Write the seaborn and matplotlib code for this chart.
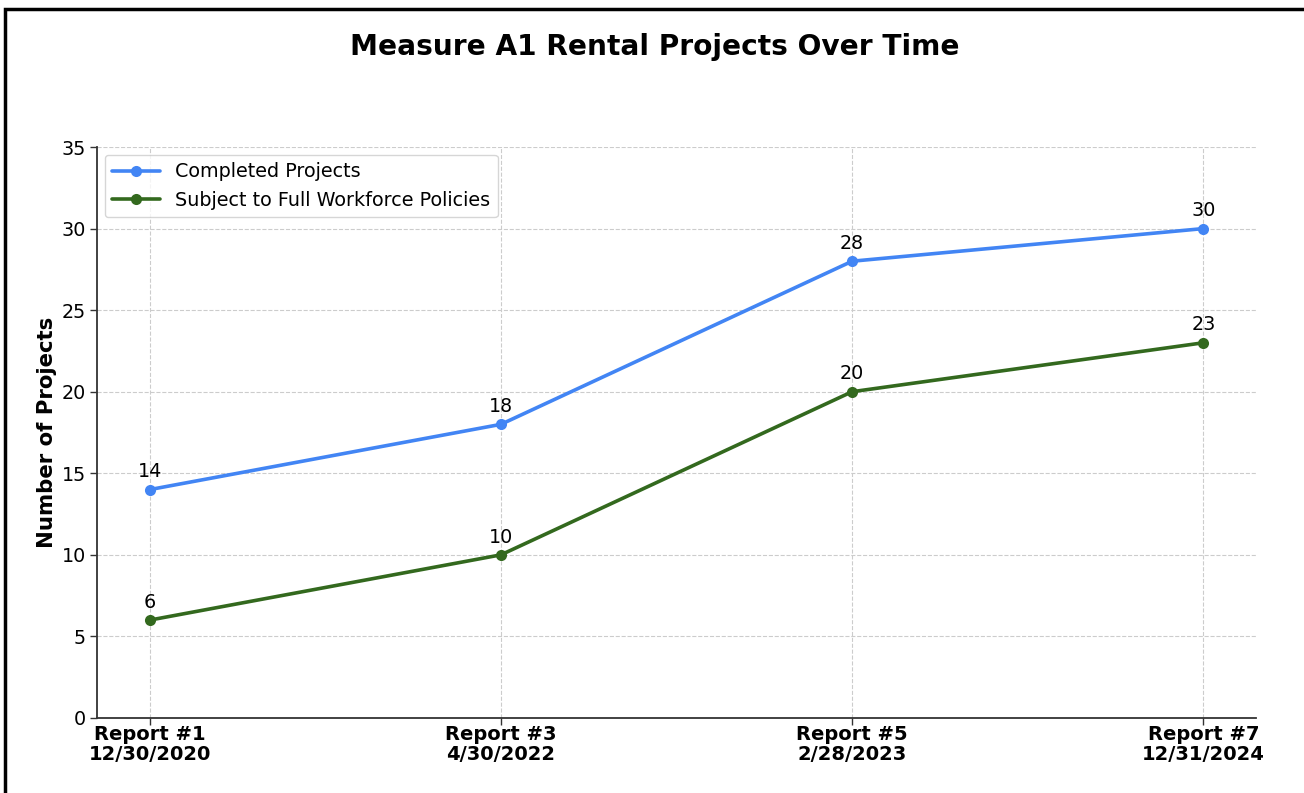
import matplotlib
matplotlib.use("Agg")
import matplotlib.pyplot as plt
import seaborn as sns
import pandas as pd
from matplotlib.patches import Rectangle

reports = ["Report #1\n12/30/2020", "Report #3\n4/30/2022", "Report #5\n2/28/2023", "Report #7\n12/31/2024"]
completed = [14, 18, 28, 30]
full_workforce = [6, 10, 20, 23]
series_names = ["Completed Projects", "Subject to Full Workforce Policies"]
colors = ["#4285F4", "#33691E"]
yticks = [0, 5, 10, 15, 20, 25, 30, 35]

sns.set_style("ticks")
plt.rcParams['font.family'] = ['DejaVu Sans']
plt.rcParams['text.color'] = 'black'
plt.rcParams['axes.labelcolor'] = 'black'
plt.rcParams['xtick.color'] = '#333333'
plt.rcParams['ytick.color'] = '#333333'
plt.rcParams['xtick.labelcolor'] = 'black'
plt.rcParams['ytick.labelcolor'] = 'black'

fig = plt.figure(figsize=(13.04, 7.93), dpi=100)
ax = fig.add_axes([0.0744, 0.0946, 0.8888, 0.72])

xs = list(range(len(reports)))
for vals, name, col in zip([completed, full_workforce], series_names, colors):
    df = pd.DataFrame({"x": xs, "y": vals})
    sns.lineplot(data=df, x="x", y="y", ax=ax, color=col, linewidth=2.6,
                 marker="o", markersize=8, markeredgewidth=0, label=name)
    for x, y in zip(xs, vals):
        ax.annotate(str(y), (x, y), xytext=(0, 6), textcoords="offset points",
                    ha="center", va="bottom", fontsize=13.75, color="black")

ax.set_xlim(-0.15, 3.15)
ax.set_ylim(0, 35)
ax.set_yticks(yticks)
ax.set_xticks(xs)
ax.set_xticklabels(reports, fontsize=14, fontweight="bold", linespacing=1.05)
ax.tick_params(axis="y", labelsize=13.75, length=5, width=1, pad=3)
ax.tick_params(axis="x", length=5, width=1, pad=0)
ax.set_xlabel("")
ax.set_ylabel("Number of Projects", fontsize=15.3, fontweight="bold", labelpad=3)
ax.grid(True, linestyle="--", color="#cccccc", linewidth=0.8)
sns.despine(ax=ax)
for s in ["left", "bottom"]:
    ax.spines[s].set_color("#333333")
    ax.spines[s].set_linewidth(1.3)

fig.text(655 / 1304, 1 - 47 / 793, "Measure A1 Rental Projects Over Time",
         fontsize=20.2, fontweight="bold", ha="center", va="center", color="black")

leg = ax.legend(loc="upper left", fontsize=13.75, frameon=True, bbox_to_anchor=(0.0, 1.0),
                borderaxespad=0.4, handlelength=2.5)
leg.get_frame().set_edgecolor("#cccccc")

rect = Rectangle((5 / 1304, -0.1), 1.2, 1 - 9 / 793 + 0.1, transform=fig.transFigure,
                 fill=False, edgecolor="black", linewidth=2.5)
fig.patches.append(rect)

fig.savefig("out.png", dpi=100)
